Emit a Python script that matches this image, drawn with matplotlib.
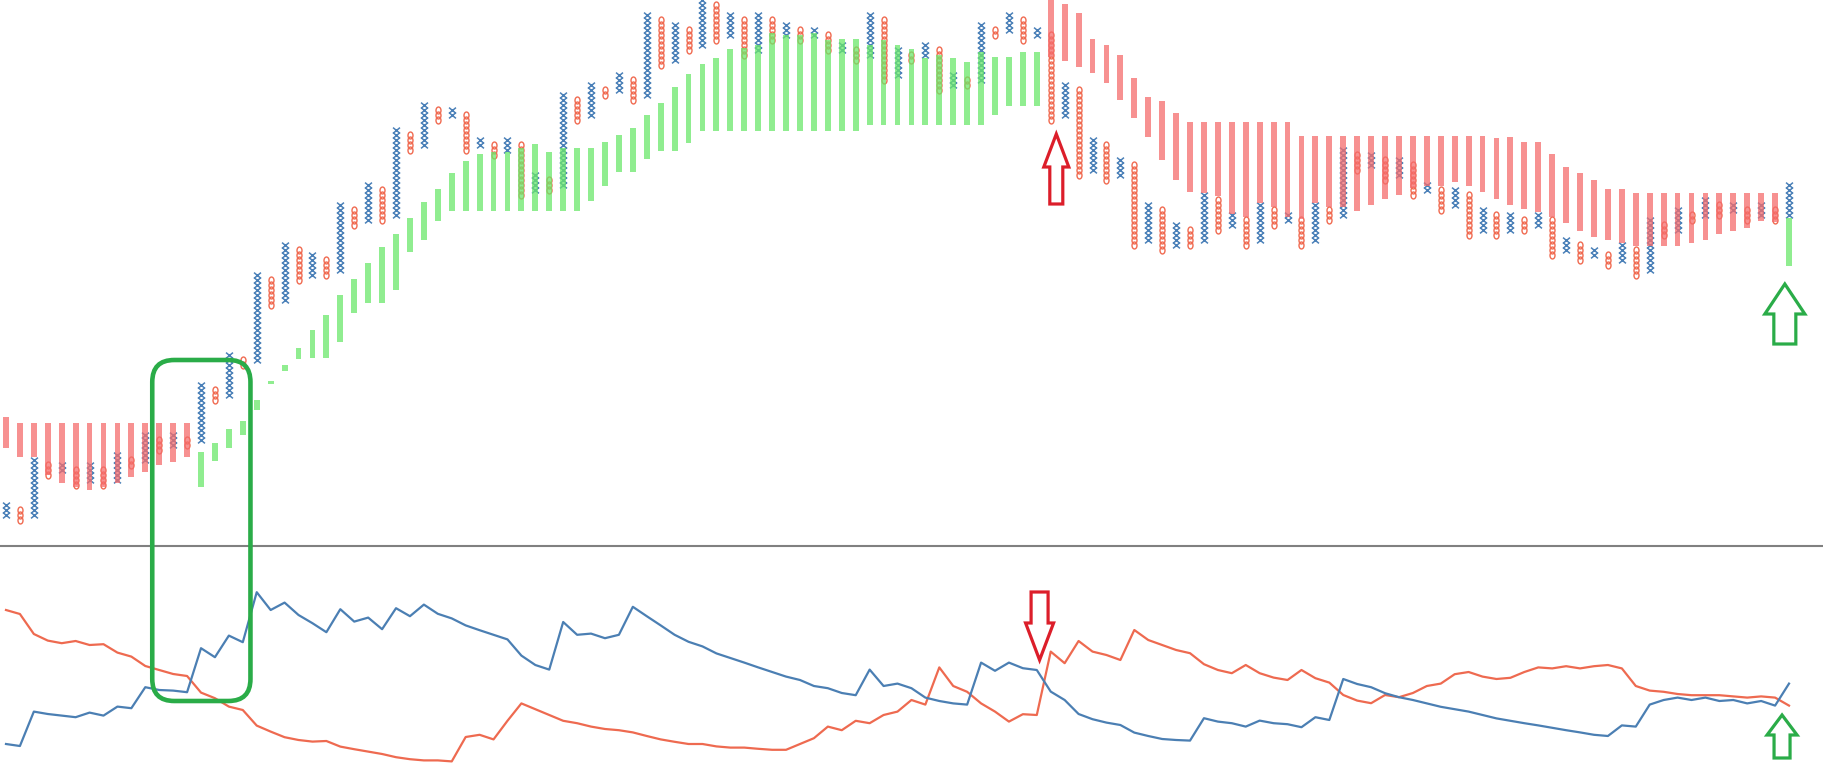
import matplotlib
matplotlib.use('Agg')
import numpy as np
import matplotlib.pyplot as plt
from matplotlib.patches import FancyArrow, FancyBboxPatch
from matplotlib.path import Path
from matplotlib.transforms import Affine2D


# point & figure columns (box units), first column is X, then alternating
pnf_kind = ("XOXOXOXOXOXOXOXOXOXOXOXOXOXOXOXOXOXOXOXOXOXOXOXOXOXOXOXOXOXOXOXO"
            "XOXOXOXOXOXOXOXOXOXOXOXOXOXOXOXOXOXOXOXOXOXOXOXOXOXOXOXOXOXOXOXOX")
pnf_lo = [9, 8, 9, 17, 18, 15, 16, 15, 16, 19,
          20, 22, 23, 23, 24, 32, 33, 39, 40, 51,
          52, 56, 57, 57, 58, 67, 68, 68, 69, 82,
          83, 88, 89, 82, 83, 81, 82, 73, 74, 74,
          75, 88, 89, 93, 94, 92, 93, 99, 100, 102,
          103, 104, 105, 101, 102, 104, 105, 104, 105, 102,
          102, 100, 101, 96, 97, 100, 101, 94, 95, 95,
          96, 105, 106, 104, 105, 88, 89, 77, 78, 76,
          77, 63, 64, 62, 63, 63, 64, 66, 67, 63,
          64, 67, 68, 63, 64, 68, 69, 78, 79, 76,
          77, 73, 74, 70, 71, 65, 66, 65, 66, 66,
          67, 61, 62, 60, 61, 59, 60, 57, 58, 65,
          66, 68, 69, 69, 70, 68, 69, 68, 69]
pnf_hi = [11, 10, 20, 19, 19, 18, 19, 18, 21, 20,
          25, 24, 25, 24, 35, 34, 41, 40, 57, 56,
          63, 62, 61, 60, 71, 70, 75, 74, 86, 85,
          91, 90, 90, 89, 84, 83, 84, 83, 77, 76,
          93, 92, 95, 94, 97, 96, 109, 108, 107, 106,
          112, 111, 109, 108, 109, 108, 107, 106, 106, 105,
          103, 102, 109, 108, 102, 101, 103, 102, 97, 96,
          107, 106, 109, 108, 106, 105, 95, 94, 84, 83,
          80, 79, 71, 70, 67, 66, 73, 72, 69, 68,
          71, 70, 69, 68, 71, 70, 82, 81, 81, 80,
          80, 79, 75, 74, 74, 73, 70, 69, 69, 68,
          69, 68, 64, 63, 62, 61, 63, 62, 68, 67,
          70, 69, 72, 71, 71, 70, 71, 70, 75]

# cloud bars (G = bullish, R = bearish)
bar_kind = ("RRRRRRRRRRRRRR"
            "GGGGGGGGGGGGGGGGGGGGGGGGGGGGGGGGGGGGGGGGGGGGGGGGGGGGGGGGGGGGG"
            "RRRRRRRRRRRRRRRRRRRRRRRRRRRRRRRRRRRRRRRRRRRRRRRRRRRRR"
            "G")
bar_top = [28.6, 27.4, 27.4, 27.4, 27.4, 27.4, 27.4, 27.4, 27.4, 27.4,
           27.4, 27.4, 27.4, 27.4, 21.6, 23.4, 26.2, 27.8, 32, 35.8,
           39, 42.4, 46, 49, 53, 56.2, 59.4, 62.6, 65.2, 68.4,
           71.6, 74.2, 77.4, 79.8, 81.2, 81.6, 81.6, 82.4, 83.2, 81.6,
           82.4, 82.4, 82.4, 83.6, 85, 86.4, 89, 91.4, 94.6, 97.2,
           99.2, 100.4, 102.2, 102.4, 103, 105.4, 105, 105, 105.4, 104,
           104.2, 104.2, 103, 104, 103, 102.2, 100.4, 101, 100.4, 99.6,
           101.6, 100.6, 100.6, 101.6, 101.6, 112.5, 111.2, 109.4, 104.2, 103,
           101, 96.4, 92.6, 91.8, 89.4, 87.6, 87.6, 87.6, 87.6, 87.6,
           87.6, 87.6, 87.6, 84.8, 84.8, 84.8, 84.8, 84.8, 84.8, 84.8,
           84.8, 84.8, 84.8, 84.8, 84.8, 84.8, 84.8, 84.4, 84.6, 83.6,
           83.6, 81.2, 78.6, 77.4, 76, 74.2, 74.2, 73.4, 73.4, 73.4,
           73.4, 73.4, 73.4, 73.4, 73.4, 73.4, 73.4, 73.4, 68.4]
bar_bot = [22.4, 20.6, 20.6, 17, 15.4, 14.6, 14, 14.6, 15.4, 16.6,
           17.6, 19, 19.6, 20.6, 14.6, 19.8, 22.4, 25, 30, 35.2,
           37.8, 40.2, 40.4, 40.4, 43.6, 49.4, 51.4, 51.4, 54, 61.6,
           64, 67.8, 69.8, 69.8, 69.8, 69.8, 69.8, 69.8, 69.8, 69.8,
           69.8, 69.8, 71.8, 74.8, 77.6, 77.6, 80.2, 81.8, 81.8, 83.4,
           85.8, 85.8, 85.8, 85.8, 85.8, 85.8, 85.8, 85.8, 85.8, 85.8,
           85.8, 85.8, 87, 87, 87, 87, 87, 87, 87, 87,
           87, 89, 90.8, 90.8, 90.8, 100.6, 99.8, 98.6, 97.4, 95.4,
           92, 88.4, 84.6, 80, 76, 73.6, 73.4, 72.8, 69.2, 68.6,
           71.4, 70.6, 68.6, 68.2, 71.4, 70.6, 70.6, 69.8, 71, 72.2,
           73, 74.4, 74.8, 74.8, 75.6, 74.8, 73.6, 72.2, 71, 70.2,
           69.6, 68.6, 67.4, 65.8, 64.6, 64, 63.4, 62.8, 62.8, 62.8,
           62.8, 63.4, 64, 65.2, 65.8, 66.4, 67.8, 67.6, 58.8]

# lower panel oscillator lines
line_blue = [13, 12, 29.2, 28, 27.2, 26.4, 28.7, 27.2, 31.7, 30.9,
             41.4, 40, 39.7, 38.9, 60.9, 56.4, 67.2, 63.9, 88.9, 80,
             83.7, 77.5, 73.4, 68.9, 80.4, 74.2, 76.2, 70.4, 80.9, 76.9,
             82.7, 78.1, 75.8, 72.3, 69.9, 67.6, 65.3, 57.2, 52.5, 50.2,
             74, 67.6, 68.2, 65.9, 67.6, 81.6, 76.9, 72.3, 67.6, 64.1,
             61.8, 58.3, 56, 53.7, 51.3, 49, 46.7, 45, 42, 40.9,
             38.5, 37.4, 50.2, 42, 43.2, 40.9, 36.2, 34.5, 33.3, 32.7,
             53.7, 49.6, 53.7, 50.9, 50, 39.2, 35, 28, 25.4, 23.7,
             22.5, 18.7, 17, 15.5, 15, 14.7, 25.9, 24.2, 23.4, 21.7,
             24.7, 23.4, 22.9, 21.4, 26.4, 25, 45.5, 43, 41.4, 38.4,
             36.4, 35, 33.3, 31.6, 30.4, 29.2, 27.5, 25.8, 24.6, 23.4,
             22.3, 21.1, 19.9, 18.8, 17.6, 17, 22.3, 21.7, 32.7, 35,
             36.2, 35, 36.2, 34.5, 35, 33.3, 34.5, 32.2, 43.2]
line_orange = [80, 78, 68, 64.7, 63.4, 64.5, 62.5, 62.9, 58.7, 56.7,
               52, 50, 48, 47, 38.7, 35.9, 31.7, 30, 22.2, 19.2,
               16.4, 15, 14.2, 14.5, 11.7, 10.4, 9.2, 8, 6.4, 5.4,
               4.8, 4.8, 4.3, 16.5, 17.6, 15.3, 24.6, 33.3, 30.4, 27.5,
               24.6, 23.4, 21.7, 20.5, 19.9, 18.8, 17, 15.3, 14.1, 13,
               13, 11.8, 11.2, 11.2, 10.6, 10.1, 10.1, 13, 15.9, 21.7,
               19.9, 24.6, 23.4, 27.5, 29.2, 35, 32.7, 51.3, 42, 39.1,
               33.3, 29.2, 24.2, 27.9, 27.5, 59.2, 53.4, 64.5, 59.2, 57.5,
               55, 70, 65, 62.5, 60, 58.4, 52.9, 50, 48.4, 52.5,
               48.4, 46.2, 45, 50, 45.9, 43.7, 37.5, 34.7, 33.4, 37.5,
               36.4, 38.5, 42, 43.2, 47.9, 49, 46.7, 45.5, 46.1, 49,
               51.3, 50.8, 51.9, 50.8, 51.9, 52.5, 50.8, 42, 39.7, 39.1,
               38, 37.4, 37.4, 37.4, 36.8, 36.2, 36.8, 36.2, 32.2]

X_COLOR = '#4a80b8'
O_COLOR = '#f06a50'
BAR_COLORS = {'G': '#6be86b', 'R': '#f56c6c'}

fig = plt.figure(figsize=(18.23, 7.75), dpi=100)
ax = fig.add_axes([0, 229 / 775, 1, 546 / 775])
ax2 = fig.add_axes([0, 0, 1, 229 / 775])

cols = np.arange(len(pnf_lo))

# X and O boxes
xs_x, ys_x, xs_o, ys_o = [], [], [], []
for i, (k, lo, hi) in enumerate(zip(pnf_kind, pnf_lo, pnf_hi)):
    boxes = list(range(lo, hi + 1))
    if k == 'X':
        xs_x += [i] * len(boxes)
        ys_x += boxes
    else:
        xs_o += [i] * len(boxes)
        ys_o += boxes

# a slightly wide X and a tall oval, like the glyphs in the original
cross = Path([(-1.2, -1), (1.2, 1), (-1.2, 1), (1.2, -1)],
             [Path.MOVETO, Path.LINETO, Path.MOVETO, Path.LINETO])
oval = Path.unit_circle().transformed(Affine2D().scale(0.72, 1.0))
ax.plot(xs_x, ys_x, ls='none', marker=cross, ms=5.0, mew=1.1, color=X_COLOR, zorder=2)
ax.plot(xs_o, ys_o, ls='none', marker=oval, ms=5.0, mfc='none', mec=O_COLOR,
        mew=1.0, zorder=2)

bar_top = np.array(bar_top)
bar_bot = np.array(bar_bot)
ax.bar(cols, bar_top - bar_bot, bottom=bar_bot, width=0.42,
       color=[BAR_COLORS[k] for k in bar_kind], alpha=0.75, zorder=3, linewidth=0)

ax.set_xlim(-0.43, 130.44)
ax.set_ylim(2.8, 112)
ax.axis('off')

ax2.plot(cols, line_orange, color='#ee6a50', lw=1.6)
ax2.plot(cols, line_blue, color='#4b7fb3', lw=1.6)
ax2.set_xlim(-0.43, 130.44)
ax2.set_ylim(-2.5, 112)
ax2.set_xticks([])
ax2.set_yticks([])
for s in ['left', 'right', 'bottom']:
    ax2.spines[s].set_visible(False)
ax2.spines['top'].set_color('#808080')
ax2.spines['top'].set_linewidth(1.5)


def to_in(axis, x, y):
    return axis.transData.transform((x, y)) / fig.dpi


def hollow_arrow(axis, x, y0, y1, tail_px, head_px, head_len_px, color):
    xa, ya = to_in(axis, x, y0)
    xb, yb = to_in(axis, x, y1)
    arr = FancyArrow(xa, ya, 0, yb - ya, width=tail_px / 100, head_width=head_px / 100,
                     head_length=head_len_px / 100, length_includes_head=True,
                     transform=fig.dpi_scale_trans, fc='white', ec=color, lw=2.3,
                     joinstyle='miter', zorder=10)
    fig.add_artist(arr)


RED = '#dc1e2a'
GREEN = '#2aac48'
hollow_arrow(ax, 75.4, 71.2, 85.2, 13, 25, 33, RED)
hollow_arrow(ax2, 74.2, 89, 55, 17, 28, 37, RED)
hollow_arrow(ax, 127.7, 43.2, 55.2, 22, 40, 30, GREEN)
hollow_arrow(ax2, 127.5, 6, 27.5, 16, 30, 20, GREEN)

# highlight box around the breakout
x0, y_top = to_in(ax, 10.5, 40)
x1, y_bot = to_in(ax2, 17.55, 34.5)
box = FancyBboxPatch((x0, y_bot), x1 - x0, y_top - y_bot,
                     boxstyle='round,pad=0,rounding_size=0.22',
                     transform=fig.dpi_scale_trans, fc='none', ec=GREEN, lw=3.3, zorder=10)
fig.add_artist(box)

fig.savefig('out.png', dpi=100)
